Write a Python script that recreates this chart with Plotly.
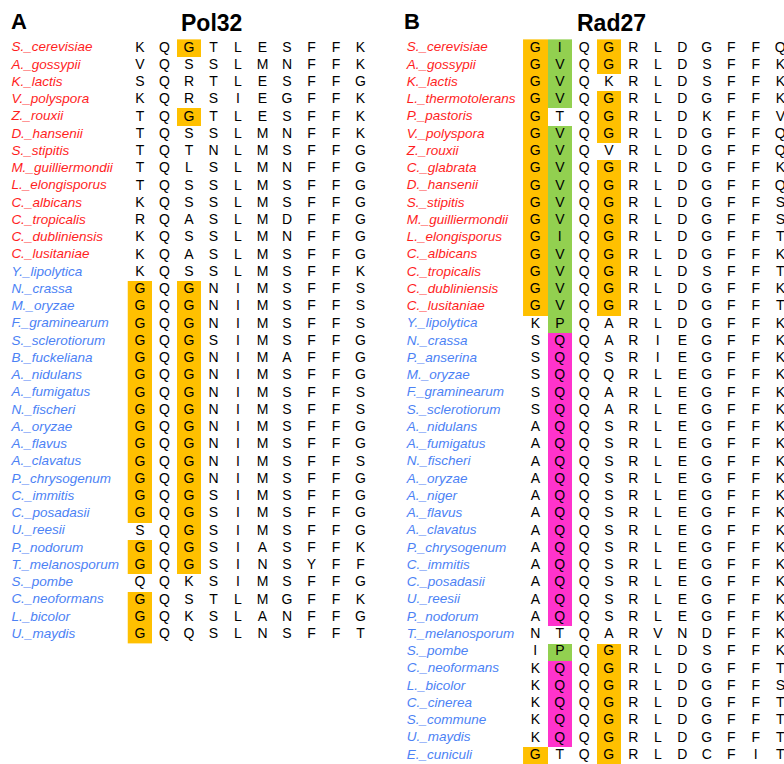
import plotly.graph_objects as go

# ---------------- Data ----------------
pol32_species = [
    "S._cerevisiae", "A._gossypii", "K._lactis", "V._polyspora", "Z._rouxii",
    "D._hansenii", "S._stipitis", "M._guilliermondii", "L._elongisporus",
    "C._albicans", "C._tropicalis", "C._dubliniensis", "C._lusitaniae",
    "Y._lipolytica", "N._crassa", "M._oryzae", "F._graminearum",
    "S._sclerotiorum", "B._fuckeliana", "A._nidulans", "A._fumigatus",
    "N._fischeri", "A._oryzae", "A._flavus", "A._clavatus", "P._chrysogenum",
    "C._immitis", "C._posadasii", "U._reesii", "P._nodorum",
    "T._melanosporum", "S._pombe", "C._neoformans", "L._bicolor", "U._maydis",
]
pol32_seqs = [
    "KQGTLESFFK", "VQSSLMNFFK", "SQRTLESFFG", "KQRSIEGFFK", "TQGTLESFFK",
    "TQSSLMNFFK", "TQTNLMSFFG", "TQLSLMNFFG", "TQSSLMSFFG",
    "KQSSLMSFFG", "RQASLMDFFG", "KQSSLMNFFG", "KQASLMSFFG",
    "KQSSLMSFFK", "GQGNIMSFFS", "GQGNIMSFFS", "GQGNIMSFFS",
    "GQGSIMSFFG", "GQGNIMAFFG", "GQGNIMSFFG", "GQGNIMSFFS",
    "GQGNIMSFFS", "GQGNIMSFFG", "GQGNIMSFFG", "GQGNIMSFFS", "GQGNIMSFFG",
    "GQGSIMSFFG", "GQGSIMSFFG", "SQGSIMSFFG", "GQGSIASFFK",
    "GQGSINSYFF", "QQKSIMSFFG", "GQSTLMGFFK", "GQKSLANFFG", "GQQSLNSFFT",
]
# o = conserved G (orange), g = green, m = magenta, . = none
pol32_marks = (
    ["..o......."] + [".........."] * 3 + ["..o......."] + [".........."] * 9
    + ["o.o......."] * 14 + ["..o......."] + ["o.o......."] * 2
    + [".........."] + ["o........."] * 3
)
pol32_group = ["yeast"] * 13 + ["other"] * 22

rad27_species = [
    "S._cerevisiae", "A._gossypii", "K._lactis", "L._thermotolerans",
    "P._pastoris", "V._polyspora", "Z._rouxii", "C._glabrata", "D._hansenii",
    "S._stipitis", "M._guilliermondii", "L._elongisporus", "C._albicans",
    "C._tropicalis", "C._dubliniensis", "C._lusitaniae", "Y._lipolytica",
    "N._crassa", "P._anserina", "M._oryzae", "F._graminearum",
    "S._sclerotiorum", "A._nidulans", "A._fumigatus", "N._fischeri",
    "A._oryzae", "A._niger", "A._flavus", "A._clavatus", "P._chrysogenum",
    "C._immitis", "C._posadasii", "U._reesii", "P._nodorum",
    "T._melanosporum", "S._pombe", "C._neoformans", "L._bicolor",
    "C._cinerea", "S._commune", "U._maydis", "E._cuniculi",
]
rad27_seqs = [
    "GIQGRLDGFFQ", "GVQGRLDSFFK", "GVQKRLDSFFK", "GVQGRLDGFFK",
    "GTQGRLDKFFV", "GVQGRLDGFFQ", "GVQVRLDGFFQ", "GVQGRLDGFFK", "GVQGRLDGFFQ",
    "GVQGRLDGFFS", "GVQGRLDGFFS", "GIQGRLDGFFT", "GVQGRLDGFFK",
    "GVQGRLDSFFT", "GVQGRLDGFFK", "GVQGRLDGFFT", "KPQARLDGFFK",
    "SQQARIEGFFK", "SQQSRIEGFFK", "SQQQRLEGFFK", "SQQARLEGFFK",
    "SQQARLEGFFK", "AQQSRLEGFFK", "AQQSRLEGFFK", "AQQSRLEGFFK",
    "AQQSRLEGFFK", "AQQSRLEGFFK", "AQQSRLEGFFK", "AQQSRLEGFFK", "AQQSRLEGFFK",
    "AQQSRLEGFFK", "AQQSRLEGFFK", "AQQSRLEGFFK", "AQQSRLEGFFK",
    "NTQARVNDFFK", "IPQGRLDSFFK", "KQQGRLDGFFT", "KQQGRLDGFFS",
    "KQQGRLDGFFT", "KQQGRLDGFFT", "KQQGRLDGFFT", "GTQGRLDCFIT",
]
rad27_marks = (
    ["og.o......."] * 2 + ["og........."] + ["og.o......."]
    + ["o..o......."] + ["og.o......."] + ["og........."]
    + ["og.o......."] * 9 + [".g........."] + [".m........."] * 17
    + ["..........."] + [".g.o......."] + [".m.o......."] * 5
    + ["o..o......."]
)
rad27_group = ["yeast"] * 16 + ["other"] * 26

# ---------------- Styling ----------------
FONT = "Arial, Liberation Sans, sans-serif"
GROUP_COLORS = {"yeast": "#FF1E1E", "other": "#4C82F5"}
MARK_CODES = {"o": 1, "g": 2, "m": 3}
MARK_SCALE = [
    [0.0, "#FFC000"], [0.3333, "#FFC000"],
    [0.3333, "#92D050"], [0.6667, "#92D050"],
    [0.6667, "#FF33CC"], [1.0, "#FF33CC"],
]

ROW_PX = 17.25
COL_PX = 24.5
NAME_OFFSET = -5.25

fig = go.Figure()


def add_panel(species, seqs, marks, groups, xa, ya):
    ncol = len(seqs[0])
    z = [[MARK_CODES.get(c) for c in row] for row in marks]
    fig.add_trace(go.Heatmap(
        z=z, x=list(range(ncol)), y=list(range(len(species))),
        colorscale=MARK_SCALE, zmin=0.5, zmax=3.5, showscale=False,
        hoverinfo="skip", xaxis=xa, yaxis=ya, xgap=0, ygap=0,
    ))
    xs, ys, ts = [], [], []
    for r, s in enumerate(seqs):
        for c, ch in enumerate(s):
            xs.append(c)
            ys.append(r)
            ts.append(ch)
    fig.add_trace(go.Scatter(
        x=xs, y=ys, text=ts, mode="text",
        textfont=dict(family=FONT, size=14, color="black"),
        hoverinfo="skip", xaxis=xa, yaxis=ya, cliponaxis=True,
    ))
    fig.add_trace(go.Scatter(
        x=[NAME_OFFSET] * len(species), y=list(range(len(species))),
        text=species, mode="text", textposition="middle right",
        textfont=dict(family=FONT, size=13.5, style="italic",
                      color=[GROUP_COLORS[g] for g in groups]),
        hoverinfo="skip", xaxis=xa, yaxis=ya, cliponaxis=False,
    ))


add_panel(pol32_species, pol32_seqs, pol32_marks, pol32_group, "x", "y")
add_panel(rad27_species, rad27_seqs, rad27_marks, rad27_group, "x2", "y2")

W, H = 784, 764
x0_a, x0_b, y0 = 140.0, 535.3, 48.0
yrange = [(H - y0) / ROW_PX, -y0 / ROW_PX]

ax_common = dict(showgrid=False, zeroline=False, showticklabels=False,
                 ticks="", showline=False, fixedrange=True)
fig.update_layout(
    width=W, height=H,
    margin=dict(l=0, r=0, t=0, b=0),
    paper_bgcolor="white", plot_bgcolor="white",
    showlegend=False,
    xaxis=dict(domain=[0, 0.5], range=[-x0_a / COL_PX, (W / 2 - x0_a) / COL_PX], **ax_common),
    xaxis2=dict(domain=[0.5, 1], range=[(W / 2 - x0_b) / COL_PX, (W - x0_b) / COL_PX], **ax_common),
    yaxis=dict(domain=[0, 1], range=yrange, anchor="x", **ax_common),
    yaxis2=dict(domain=[0, 1], range=yrange, anchor="x2", **ax_common),
    annotations=[
        dict(text="<b>A</b>", x=(19 - x0_a) / COL_PX, y=-1.55, xref="x", yref="y",
             showarrow=False, font=dict(family=FONT, size=22, color="black")),
        dict(text="<b>Pol32</b>", x=(211 - x0_a) / COL_PX, y=-1.45, xref="x", yref="y",
             showarrow=False, font=dict(family=FONT, size=23, color="black")),
        dict(text="<b>B</b>", x=(412 - x0_b) / COL_PX, y=-1.55, xref="x2", yref="y2",
             showarrow=False, font=dict(family=FONT, size=22, color="black")),
        dict(text="<b>Rad27</b>", x=(611.7 - x0_b) / COL_PX, y=-1.45, xref="x2", yref="y2",
             showarrow=False, font=dict(family=FONT, size=23, color="black")),
    ],
)

fig.write_html(
    "out.html",
    config={"displayModeBar": False},
    post_script="document.body.style.margin='0';document.body.style.overflow='hidden';",
)
